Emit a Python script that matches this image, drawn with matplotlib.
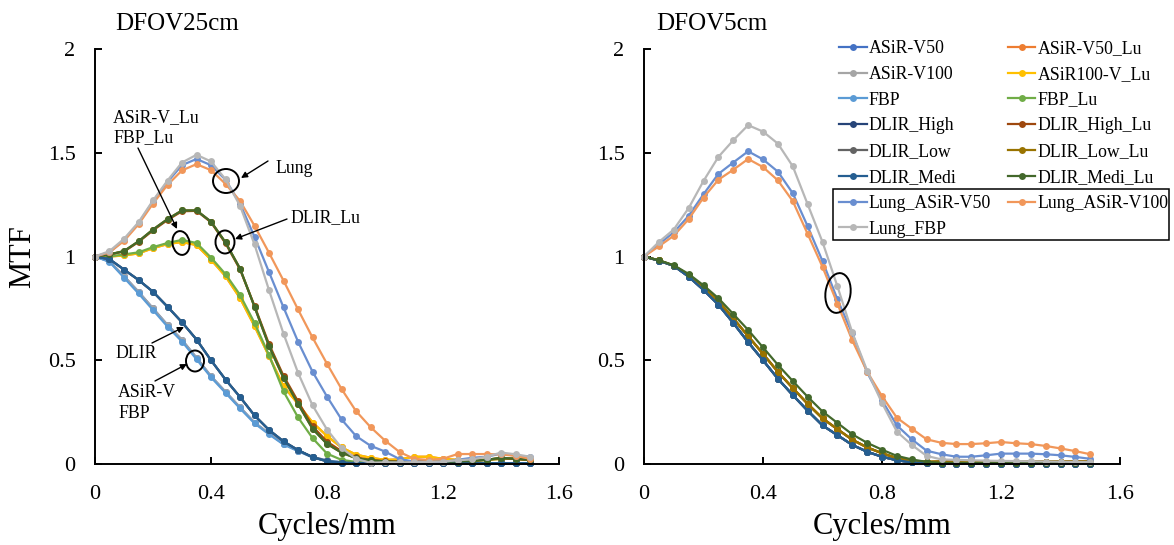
import matplotlib
matplotlib.use("Agg")
import matplotlib.pyplot as plt
from matplotlib.patches import Ellipse, Rectangle

plt.rcParams["font.family"] = ["Liberation Serif", "DejaVu Serif"]

W, H = 1174, 545

# spatial frequency (cycles/mm)
FREQ = [0.00, 0.05, 0.10, 0.15, 0.20, 0.25, 0.30, 0.35, 0.40, 0.45, 0.50,
        0.55, 0.60, 0.65, 0.70, 0.75, 0.80, 0.85, 0.90, 0.95, 1.00, 1.05,
        1.10, 1.15, 1.20, 1.25, 1.30, 1.35, 1.40, 1.45, 1.50]

SERIES = ["ASiR-V50", "ASiR-V50_Lu", "ASiR-V100", "ASiR100-V_Lu", "FBP", "FBP_Lu",
          "DLIR_High", "DLIR_High_Lu", "DLIR_Low", "DLIR_Low_Lu", "DLIR_Medi",
          "DLIR_Medi_Lu", "Lung_ASiR-V50", "Lung_ASiR-V100", "Lung_FBP"]
COLORS = ["#4472C4", "#ED7D31", "#A5A5A5", "#FFC000", "#5B9BD5", "#70AD47",
          "#264478", "#9E480E", "#636363", "#997300", "#255E91", "#43682B",
          "#698ED0", "#F1975A", "#B7B7B7"]

# ---- DFOV 25 cm ----
L_BASE = [1.000, 0.976, 0.905, 0.830, 0.750, 0.670, 0.598, 0.512, 0.423, 0.348,
          0.273, 0.200, 0.147, 0.097, 0.064, 0.034, 0.017, 0.008, 0.005, 0.004,
          0.004, 0.004, 0.004, 0.004, 0.004, 0.004, 0.004, 0.004, 0.004, 0.004, 0.004]
L_FBP = [1.000, 0.974, 0.898, 0.822, 0.742, 0.662, 0.590, 0.505, 0.418, 0.343,
         0.268, 0.196, 0.143, 0.094, 0.062, 0.032, 0.016, 0.008, 0.005, 0.004,
         0.004, 0.004, 0.004, 0.004, 0.004, 0.004, 0.004, 0.004, 0.004, 0.004, 0.004]
L_DLIR = [1.000, 0.987, 0.937, 0.887, 0.830, 0.758, 0.683, 0.600, 0.500, 0.407,
          0.323, 0.234, 0.164, 0.109, 0.067, 0.033, 0.013, 0.006, 0.004, 0.004,
          0.004, 0.004, 0.004, 0.004, 0.004, 0.004, 0.004, 0.004, 0.004, 0.004, 0.004]
L_LU_V = [1.000, 1.000, 1.005, 1.015, 1.040, 1.060, 1.070, 1.055, 0.985, 0.905,
          0.800, 0.665, 0.520, 0.375, 0.290, 0.200, 0.135, 0.080, 0.045, 0.030,
          0.020, 0.022, 0.035, 0.035, 0.025, 0.020, 0.020, 0.020, 0.025, 0.025, 0.020]
L_FBP_LU = [1.000, 1.000, 1.010, 1.020, 1.045, 1.065, 1.080, 1.065, 0.995, 0.915,
            0.815, 0.680, 0.525, 0.350, 0.225, 0.125, 0.050, 0.020, 0.010, 0.008,
            0.008, 0.008, 0.008, 0.008, 0.008, 0.012, 0.015, 0.020, 0.025, 0.025, 0.020]
L_DLIR_LU = [1.000, 1.010, 1.026, 1.073, 1.130, 1.180, 1.222, 1.222, 1.168, 1.068,
             0.942, 0.758, 0.569, 0.415, 0.290, 0.170, 0.097, 0.055, 0.028, 0.018,
             0.012, 0.010, 0.010, 0.010, 0.010, 0.012, 0.015, 0.020, 0.030, 0.025, 0.020]
L_DLIR_LU_HI = [1.000, 1.010, 1.024, 1.070, 1.126, 1.176, 1.218, 1.220, 1.165, 1.064,
                0.938, 0.762, 0.578, 0.425, 0.302, 0.182, 0.108, 0.062, 0.032, 0.020,
                0.014, 0.012, 0.012, 0.012, 0.012, 0.014, 0.016, 0.020, 0.028, 0.024, 0.020]
L_LUNG_V50 = [1.000, 1.020, 1.080, 1.160, 1.265, 1.360, 1.440, 1.470, 1.440, 1.370,
              1.255, 1.095, 0.925, 0.755, 0.590, 0.445, 0.325, 0.215, 0.135, 0.088,
              0.060, 0.024, 0.012, 0.010, 0.010, 0.020, 0.030, 0.035, 0.050, 0.040, 0.035]
L_LUNG_V100 = [1.000, 1.020, 1.075, 1.155, 1.255, 1.345, 1.415, 1.445, 1.416, 1.350,
               1.268, 1.148, 1.018, 0.884, 0.745, 0.610, 0.483, 0.362, 0.255, 0.178,
               0.113, 0.058, 0.025, 0.020, 0.025, 0.048, 0.048, 0.048, 0.046, 0.040, 0.025]
L_LUNG_FBP = [1.000, 1.026, 1.085, 1.165, 1.270, 1.366, 1.453, 1.490, 1.458, 1.372,
              1.245, 1.058, 0.838, 0.628, 0.440, 0.283, 0.166, 0.078, 0.025, 0.006,
              0.008, 0.008, 0.008, 0.010, 0.012, 0.018, 0.022, 0.035, 0.055, 0.047, 0.035]

# ---- DFOV 5 cm ----
R_LOW = [1.000, 0.980, 0.955, 0.903, 0.839, 0.768, 0.680, 0.587, 0.500, 0.411,
         0.332, 0.257, 0.186, 0.139, 0.092, 0.059, 0.035, 0.018, 0.008, 0.003,
         0.002, 0.002, 0.002, 0.002, 0.002, 0.002, 0.002, 0.002, 0.002, 0.002, 0.002]
R_MID = [1.000, 0.981, 0.956, 0.910, 0.850, 0.784, 0.702, 0.616, 0.531, 0.444,
         0.366, 0.290, 0.220, 0.168, 0.117, 0.080, 0.052, 0.028, 0.015, 0.010,
         0.012, 0.012, 0.012, 0.012, 0.012, 0.012, 0.012, 0.012, 0.012, 0.012, 0.012]
R_HIGH = [1.000, 0.982, 0.958, 0.916, 0.861, 0.799, 0.723, 0.646, 0.562, 0.478,
          0.400, 0.324, 0.253, 0.198, 0.143, 0.102, 0.069, 0.039, 0.022, 0.010,
          0.005, 0.005, 0.005, 0.005, 0.005, 0.005, 0.005, 0.005, 0.005, 0.005, 0.005]
R_LUNG_V50 = [1.000, 1.060, 1.116, 1.196, 1.300, 1.398, 1.453, 1.507, 1.468, 1.409,
              1.305, 1.146, 0.978, 0.794, 0.629, 0.441, 0.307, 0.186, 0.119, 0.064,
              0.047, 0.035, 0.035, 0.042, 0.050, 0.050, 0.050, 0.047, 0.042, 0.034, 0.025]
R_LUNG_V100 = [1.000, 1.049, 1.100, 1.180, 1.284, 1.370, 1.418, 1.470, 1.431, 1.367,
               1.267, 1.109, 0.950, 0.773, 0.596, 0.445, 0.327, 0.223, 0.170, 0.119,
               0.102, 0.096, 0.096, 0.100, 0.106, 0.100, 0.096, 0.087, 0.075, 0.062, 0.047]
R_LUNG_FBP = [1.000, 1.070, 1.130, 1.233, 1.364, 1.480, 1.560, 1.633, 1.602, 1.544,
              1.435, 1.252, 1.070, 0.857, 0.634, 0.450, 0.294, 0.156, 0.092, 0.039,
              0.022, 0.020, 0.018, 0.016, 0.015, 0.014, 0.013, 0.012, 0.011, 0.010, 0.010]

LEFT = [L_BASE, L_LU_V, L_BASE, L_LU_V, L_FBP, L_FBP_LU, L_DLIR, L_DLIR_LU_HI,
        L_DLIR, L_DLIR_LU, L_DLIR, L_DLIR_LU, L_LUNG_V50, L_LUNG_V100, L_LUNG_FBP]
RIGHT = [R_LOW, R_MID, R_LOW, R_MID, R_LOW, R_MID, R_LOW, R_MID,
         R_LOW, R_MID, R_LOW, R_HIGH, R_LUNG_V50, R_LUNG_V100, R_LUNG_FBP]

X_TICKS = [0, 0.4, 0.8, 1.2, 1.6]
X_TICKLABELS = ["0", "0.4", "0.8", "1.2", "1.6"]
Y_TICKS = [0, 0.5, 1, 1.5, 2]
Y_TICKLABELS = ["0", "0.5", "1", "1.5", "2"]


def px(x, y):
    """image pixel (from top-left) -> figure fraction"""
    return (x / W, 1 - y / H)


fig = plt.figure(figsize=(W / 100, H / 100), dpi=100)
ax1 = fig.add_axes([95 / W, 1 - 464 / H, 464 / W, 415 / H])
ax2 = fig.add_axes([644 / W, 1 - 464 / H, 476 / W, 415 / H])

handles = []
for ax, data in [(ax1, LEFT), (ax2, RIGHT)]:
    for name, color, ys in zip(SERIES, COLORS, data):
        ln, = ax.plot(FREQ, ys, color=color, lw=1.6, marker="o", markersize=5,
                      markeredgewidth=0, label=name, clip_on=False)
        if ax is ax2:
            handles.append(ln)
    ax.set_xlim(0, 1.6)
    ax.set_ylim(0, 2)
    ax.set_xticks(X_TICKS)
    ax.set_xticklabels(X_TICKLABELS)
    ax.set_yticks(Y_TICKS)
    ax.set_yticklabels(Y_TICKLABELS)
    for s in ["top", "right"]:
        ax.spines[s].set_visible(False)
    for s in ["left", "bottom"]:
        ax.spines[s].set_linewidth(1.4)
    ax.tick_params(direction="in", length=5, width=1.4, labelsize=16)
    ax.tick_params(axis="y", pad=14)
    ax.tick_params(axis="x", pad=15)
    ax.set_xlabel("Cycles/mm", fontsize=22)
    ax.xaxis.set_label_coords(0.5, -0.115)

ax1.set_ylabel("MTF", fontsize=22)
ax1.yaxis.set_label_coords(-0.157, 0.5)
ax1.yaxis.label.set_va("center")

fig.text(*px(115, 30), "DFOV25cm", fontsize=18, va="baseline")
fig.text(*px(656, 30), "DFOV5cm", fontsize=18, va="baseline")

# legend (row-major as in the original)
order = list(range(0, 15, 2)) + list(range(1, 15, 2))
ax2.legend([handles[i] for i in order], [SERIES[i] for i in order], ncol=2,
           loc="upper left", bbox_to_anchor=px(839, 40), bbox_transform=fig.transFigure,
           frameon=False, fontsize=12.8, handlelength=1.55, handletextpad=0.12,
           columnspacing=0.95, labelspacing=0.495, borderpad=0, borderaxespad=0)

# box round the lung entries
fig.add_artist(Rectangle((833 / 100, (H - 240) / 100), 336 / 100, 51 / 100,
                         transform=fig.dpi_scale_trans, fill=False,
                         edgecolor="black", lw=1.1))

# circles marking curve groups (centre x, centre y, width, height in pixels, angle)
for cx, cy, w, h, ang in [(226, 181, 26, 24, 0), (225, 242, 19, 23, 0),
                          (181, 243, 17, 24, 10), (195, 361, 18, 21, 0),
                          (838, 293, 25, 40, -8)]:
    fig.add_artist(Ellipse((cx / 100, (H - cy) / 100), w / 100, h / 100, angle=ang,
                           transform=fig.dpi_scale_trans, fill=False,
                           edgecolor="black", lw=1.4))

# arrows (tail -> head, pixels)
for (tx, ty), (hx, hy) in [((138, 148), (177, 229)), ((268, 161), (241, 178)),
                           ((287, 219), (235, 239)), ((152, 343), (184, 327)),
                           ((155, 381), (187, 364)), ((868, 242), (847, 273))]:
    ax1.annotate("", xy=px(hx, hy), xycoords="figure fraction",
                 xytext=px(tx, ty), textcoords="figure fraction",
                 annotation_clip=False,
                 arrowprops=dict(arrowstyle="-|>", color="black", lw=1.0,
                                 mutation_scale=9, shrinkA=0, shrinkB=0))

ann = dict(fontsize=12.8, va="baseline")
fig.text(*px(113, 122), "ASiR-V_Lu", **ann)
fig.text(*px(113, 142), "FBP_Lu", **ann)
fig.text(*px(275, 173), "Lung", **ann)
fig.text(*px(290, 222), "DLIR_Lu", **ann)
fig.text(*px(115, 358), "DLIR", **ann)
fig.text(*px(118, 397), "ASiR-V", **ann)
fig.text(*px(118, 418), "FBP", **ann)

fig.savefig("out.png", dpi=100)
